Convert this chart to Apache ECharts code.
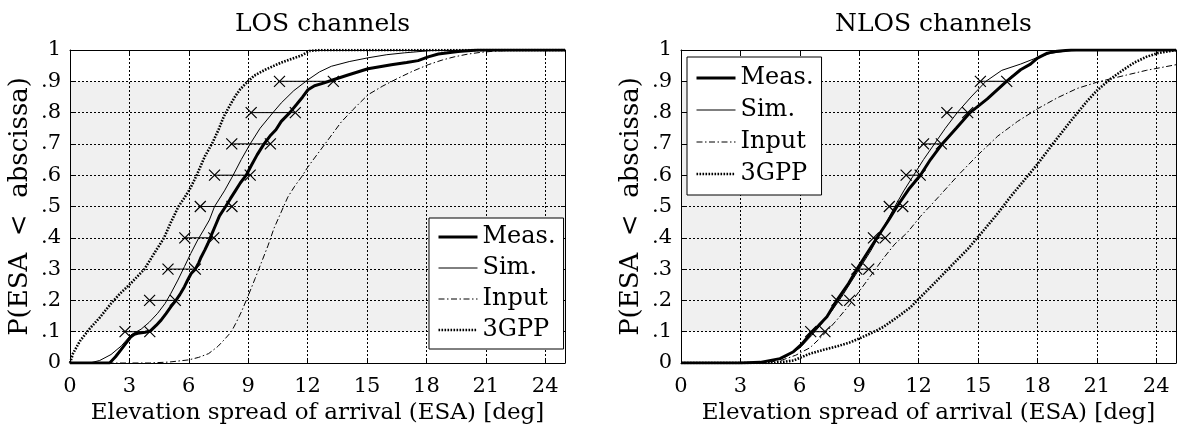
<!DOCTYPE html>
<html>
<head>
<meta charset="utf-8">
<script src="https://cdn.jsdelivr.net/npm/echarts@6/dist/echarts.min.js"></script>
<style>
  html, body { margin: 0; padding: 0; background: #ffffff; }
  #chart { width: 1177px; height: 428px; }
</style>
</head>
<body>
<div id="chart"></div>
<script>
// ---- data -------------------------------------------------------------
const panelTitles = ['LOS channels', 'NLOS channels'];
const seriesNames = ['Meas.', 'Sim.', 'Input', '3GPP'];
const xTickLabels = ['0', '3', '6', '9', '12', '15', '18', '21', '24'];
const yTickLabels = ['0', '.1', '.2', '.3', '.4', '.5', '.6', '.7', '.8', '.9', '1'];
const deciles = [0.1, 0.2, 0.3, 0.4, 0.5, 0.6, 0.7, 0.8, 0.9];

// LOS: empirical CDFs of the elevation spread [deg, probability]
const losMeas = [[0,0],[2.0,0],[2.3,0.02],[2.57,0.042],[2.85,0.065],[3.08,0.084],[3.25,0.092],[3.42,0.095],[3.8,0.098],[4.05,0.102],[4.35,0.12],[4.6,0.137],[4.85,0.158],[5.1,0.18],[5.36,0.201],[5.58,0.222],[5.78,0.244],[5.95,0.266],[6.12,0.286],[6.33,0.3],[6.5,0.32],[6.62,0.338],[6.8,0.36],[6.96,0.381],[7.15,0.41],[7.35,0.44],[7.55,0.47],[7.86,0.5],[8.1,0.525],[8.35,0.55],[8.6,0.575],[8.9,0.6],[9.15,0.63],[9.45,0.665],[9.8,0.7],[10.1,0.725],[10.4,0.745],[10.67,0.772],[11.1,0.8],[11.43,0.825],[11.75,0.85],[12.02,0.873],[12.35,0.886],[12.8,0.894],[13.3,0.905],[14.04,0.92],[15.05,0.94],[16.23,0.953],[17.0,0.96],[17.58,0.966],[18.09,0.978],[18.6,0.987],[19.6,0.995],[20.6,1.0],[25,1.0]];
const losSim = [[0,0],[1.0,0],[1.5,0.008],[2.07,0.027],[2.6,0.055],[3.08,0.09],[3.59,0.108],[4.0,0.13],[4.43,0.159],[4.8,0.19],[5.1,0.223],[5.45,0.265],[5.78,0.308],[6.1,0.35],[6.45,0.393],[6.75,0.425],[7.04,0.457],[7.3,0.5],[7.8,0.55],[8.24,0.6],[8.65,0.65],[9.1,0.7],[9.6,0.75],[10.25,0.8],[10.67,0.831],[11.3,0.87],[12.02,0.905],[12.6,0.93],[13.2,0.948],[14.1,0.963],[15.05,0.975],[16.0,0.985],[16.9,0.991],[18.2,0.998],[20.0,1.0],[25,1.0]];
const losInput = [[0,0],[4.0,0],[5.0,0.003],[6.0,0.01],[6.5,0.018],[7.0,0.03],[7.47,0.053],[7.8,0.075],[8.15,0.1],[8.4,0.13],[8.66,0.164],[9.0,0.215],[9.35,0.27],[9.66,0.32],[10.0,0.375],[10.3,0.43],[10.65,0.48],[11.0,0.53],[11.35,0.565],[11.7,0.595],[12.0,0.625],[12.35,0.655],[13.0,0.71],[13.7,0.77],[14.3,0.81],[15.05,0.857],[15.8,0.885],[16.57,0.91],[17.3,0.932],[18.09,0.953],[18.8,0.968],[19.4,0.978],[20.1,0.987],[20.8,0.993],[21.6,0.997],[22.6,1.0],[25,1.0]];
const los3gpp = [[0,0],[0.15,0.03],[0.5,0.07],[1.0,0.11],[1.5,0.145],[2.07,0.19],[2.5,0.22],[3.08,0.255],[3.76,0.3],[4.25,0.35],[4.75,0.4],[5.1,0.45],[5.48,0.5],[5.75,0.525],[6.05,0.555],[6.4,0.6],[6.81,0.66],[7.19,0.703],[7.5,0.745],[7.77,0.788],[8.05,0.82],[8.34,0.852],[8.6,0.875],[8.91,0.895],[9.3,0.918],[9.86,0.937],[10.67,0.96],[11.2,0.972],[11.68,0.982],[12.1,0.997],[12.6,1.0],[25,1.0]];
// LOS: decile markers, lower and upper end of each pair
const losDecileLow  = [2.78, 4.02, 4.95, 5.8, 6.58, 7.3, 8.17, 9.15, 10.58];
const losDecileHigh = [4.03, 5.32, 6.33, 7.26, 8.18, 9.1, 10.12, 11.38, 13.3];

// NLOS: empirical CDFs of the elevation spread [deg, probability]
const nlosMeas = [[0,0],[3.0,0],[4.0,0.002],[5.0,0.014],[5.68,0.036],[6.1,0.06],[6.52,0.092],[6.95,0.12],[7.37,0.148],[7.87,0.2],[8.46,0.254],[8.89,0.3],[9.39,0.35],[9.9,0.4],[10.49,0.457],[10.91,0.5],[11.5,0.555],[12.09,0.6],[12.6,0.65],[13.19,0.7],[13.9,0.75],[14.6,0.8],[15.47,0.844],[16.44,0.9],[17.15,0.937],[17.65,0.955],[18.0,0.974],[18.5,0.99],[19.0,0.996],[19.7,1.0],[25,1.0]];
const nlosSim = [[0,0],[3.5,0],[4.5,0.005],[5.3,0.02],[6.0,0.048],[6.6,0.088],[7.1,0.125],[7.6,0.165],[8.1,0.21],[8.6,0.26],[9.1,0.31],[9.6,0.36],[10.2,0.43],[10.8,0.5],[11.25,0.55],[11.75,0.6],[12.25,0.65],[12.8,0.7],[13.35,0.75],[13.95,0.8],[14.65,0.85],[15.4,0.9],[16.2,0.935],[17.15,0.955],[18.0,0.976],[18.7,0.99],[19.5,0.997],[20.5,1.0],[25,1.0]];
const nlosInput = [[0,0],[4.0,0],[5.0,0.007],[5.8,0.025],[6.52,0.049],[7.2,0.09],[7.88,0.138],[8.5,0.185],[9.06,0.234],[9.65,0.285],[10.24,0.336],[10.8,0.38],[11.42,0.416],[12.09,0.468],[13.0,0.53],[14.0,0.6],[15.0,0.665],[16.0,0.725],[17.0,0.772],[18.0,0.812],[19.0,0.847],[20.0,0.877],[21.0,0.897],[21.7,0.908],[22.5,0.92],[23.5,0.935],[24.5,0.947],[25,0.953]];
const nlos3gpp = [[0,0],[4.5,0],[5.2,0.004],[5.68,0.008],[6.52,0.03],[7.2,0.042],[7.87,0.053],[8.5,0.065],[9.06,0.08],[9.7,0.098],[10.24,0.116],[11.0,0.15],[11.59,0.178],[12.09,0.21],[12.8,0.255],[13.61,0.308],[14.5,0.365],[15.3,0.425],[16.0,0.478],[16.65,0.532],[17.15,0.57],[18.0,0.635],[18.84,0.705],[19.67,0.772],[20.5,0.836],[21.0,0.87],[21.7,0.908],[22.3,0.935],[22.9,0.96],[23.5,0.978],[24.07,0.99],[25,1.0]];
// NLOS: decile markers, lower and upper end of each pair
const nlosDecileLow  = [6.55, 7.88, 8.88, 9.72, 10.52, 11.37, 12.25, 13.43, 15.12];
const nlosDecileHigh = [7.27, 8.52, 9.48, 10.31, 11.2, 12.08, 13.15, 14.48, 16.45];

// ---- styling ----------------------------------------------------------
const FONT = 'DejaVu Serif';
const INK = '#000000';
const curveStyles = [
  { color: INK, width: 3, type: 'solid' },             // Meas.
  { color: INK, width: 1, type: 'solid' },             // Sim.
  { color: INK, width: 1, type: [6, 2.5, 1.5, 2.5] },  // Input
  { color: INK, width: 2.6, type: [1.6, 1.4] }         // 3GPP
];
// light band between the 10% and 90% levels
const bandColors = ['#ffffff', '#f0f0f0', '#f0f0f0', '#f0f0f0', '#f0f0f0',
                    '#f0f0f0', '#f0f0f0', '#f0f0f0', '#f0f0f0', '#ffffff'];

const grids = [
  { left: 70, top: 50, width: 495, height: 313 },
  { left: 681, top: 50, width: 495, height: 313 }
];

function decilePairs(low, high) {
  const out = [];
  deciles.forEach((d, i) => {
    out.push([low[i], d], [high[i], d], ['-', '-']);
  });
  return out;
}

const xAxes = [];
const yAxes = [];
grids.forEach((g, gi) => {
  xAxes.push({
    gridIndex: gi, type: 'value', min: 0, max: 25, interval: 3, position: 'bottom',
    axisLine: { show: true, onZero: false, lineStyle: { color: INK, width: 1 } },
    axisTick: { show: true, inside: true, length: 4, lineStyle: { color: INK } },
    axisLabel: {
      color: INK, fontFamily: FONT, fontSize: 21, margin: 13,
      formatter: v => (v % 3 === 0 && v <= 24) ? xTickLabels[v / 3] : ''
    },
    splitLine: { show: true, lineStyle: { color: INK, width: 1, type: [2, 2] } },
    name: 'Elevation spread of arrival (ESA) [deg]',
    nameLocation: 'middle', nameGap: 35,
    nameTextStyle: { color: INK, fontFamily: FONT, fontSize: 23 }
  });
  xAxes.push({
    gridIndex: gi, type: 'value', min: 0, max: 25, interval: 3, position: 'top',
    axisLine: { show: true, onZero: false, lineStyle: { color: INK, width: 1 } },
    axisTick: { show: true, inside: true, length: 4, lineStyle: { color: INK } },
    axisLabel: { show: false }, splitLine: { show: false }
  });
  yAxes.push({
    gridIndex: gi, type: 'value', min: 0, max: 1, interval: 0.1, position: 'left',
    axisLine: { show: true, onZero: false, lineStyle: { color: INK, width: 1 } },
    axisTick: { show: true, inside: true, length: 4, lineStyle: { color: INK } },
    axisLabel: {
      color: INK, fontFamily: FONT, fontSize: 21, margin: 9,
      formatter: v => yTickLabels[Math.round(v * 10)] || ''
    },
    splitLine: { show: true, lineStyle: { color: INK, width: 1, type: [2, 2] } },
    splitArea: { show: true, areaStyle: { color: bandColors } },
    name: 'P(ESA  <  abscissa)',
    nameLocation: 'middle', nameGap: 37, nameRotate: 90,
    nameTextStyle: { color: INK, fontFamily: FONT, fontSize: 26 }
  });
  yAxes.push({
    gridIndex: gi, type: 'value', min: 0, max: 1, interval: 0.1, position: 'right',
    axisLine: { show: true, onZero: false, lineStyle: { color: INK, width: 1 } },
    axisTick: { show: true, inside: true, length: 4, lineStyle: { color: INK } },
    axisLabel: { show: false }, splitLine: { show: false }
  });
});

const panels = [
  { curves: [losMeas, losSim, losInput, los3gpp], low: losDecileLow, high: losDecileHigh },
  { curves: [nlosMeas, nlosSim, nlosInput, nlos3gpp], low: nlosDecileLow, high: nlosDecileHigh }
];

const series = [];
panels.forEach((p, pi) => {
  const axisIndex = pi * 2;
  // dotted and dash-dot curves first, solid curves on top
  [3, 2, 1, 0].forEach(k => {
    const st = curveStyles[k];
    series.push({
      type: 'line', name: seriesNames[k],
      xAxisIndex: axisIndex, yAxisIndex: axisIndex,
      data: p.curves[k],
      symbol: 'none', showSymbol: false, silent: true,
      lineStyle: { color: st.color, width: st.width, type: st.type, cap: 'butt' },
      itemStyle: { color: st.color },
      emphasis: { disabled: true },
      z: 3 + (3 - k)
    });
  });
  series.push({
    type: 'line', name: 'Decile spread',
    xAxisIndex: axisIndex, yAxisIndex: axisIndex,
    data: decilePairs(p.low, p.high),
    connectNulls: false,
    symbol: 'path://M0,0L10,10M10,0L0,10', symbolSize: 11,
    showSymbol: true, showAllSymbol: true, silent: true,
    itemStyle: { color: 'rgba(0,0,0,0)', borderColor: INK, borderWidth: 1.2 },
    lineStyle: { color: INK, width: 1 },
    emphasis: { disabled: true },
    z: 8
  });
});

const legendCommon = {
  data: seriesNames,
  orient: 'vertical',
  backgroundColor: '#ffffff',
  borderColor: INK, borderWidth: 1, borderRadius: 0,
  itemWidth: 39, itemHeight: 14,
  selectedMode: false,
  itemStyle: { opacity: 0, borderWidth: 0 },
  lineStyle: { width: 'inherit' },
  textStyle: { color: INK, fontFamily: FONT, fontSize: 24 }
};

const option = {
  animation: false,
  backgroundColor: '#ffffff',
  title: panelTitles.map((t, i) => ({
    text: t,
    left: grids[i].left + grids[i].width / 2,
    top: 7,
    textAlign: 'center',
    textStyle: { color: INK, fontFamily: FONT, fontSize: 25, fontWeight: 'normal' }
  })),
  legend: [
    Object.assign({}, legendCommon, { left: 429, top: 218, padding: [7, 8], itemGap: 7 }),
    Object.assign({}, legendCommon, { left: 687, top: 57, padding: [9, 8], itemGap: 8 })
  ],
  grid: grids.map(g => Object.assign({ containLabel: false, outerBoundsMode: 'none' }, g)),
  xAxis: xAxes,
  yAxis: yAxes,
  series: series
};

const chart = echarts.init(document.getElementById('chart'), null, { renderer: 'canvas' });
chart.setOption(option);
</script>
</body>
</html>
